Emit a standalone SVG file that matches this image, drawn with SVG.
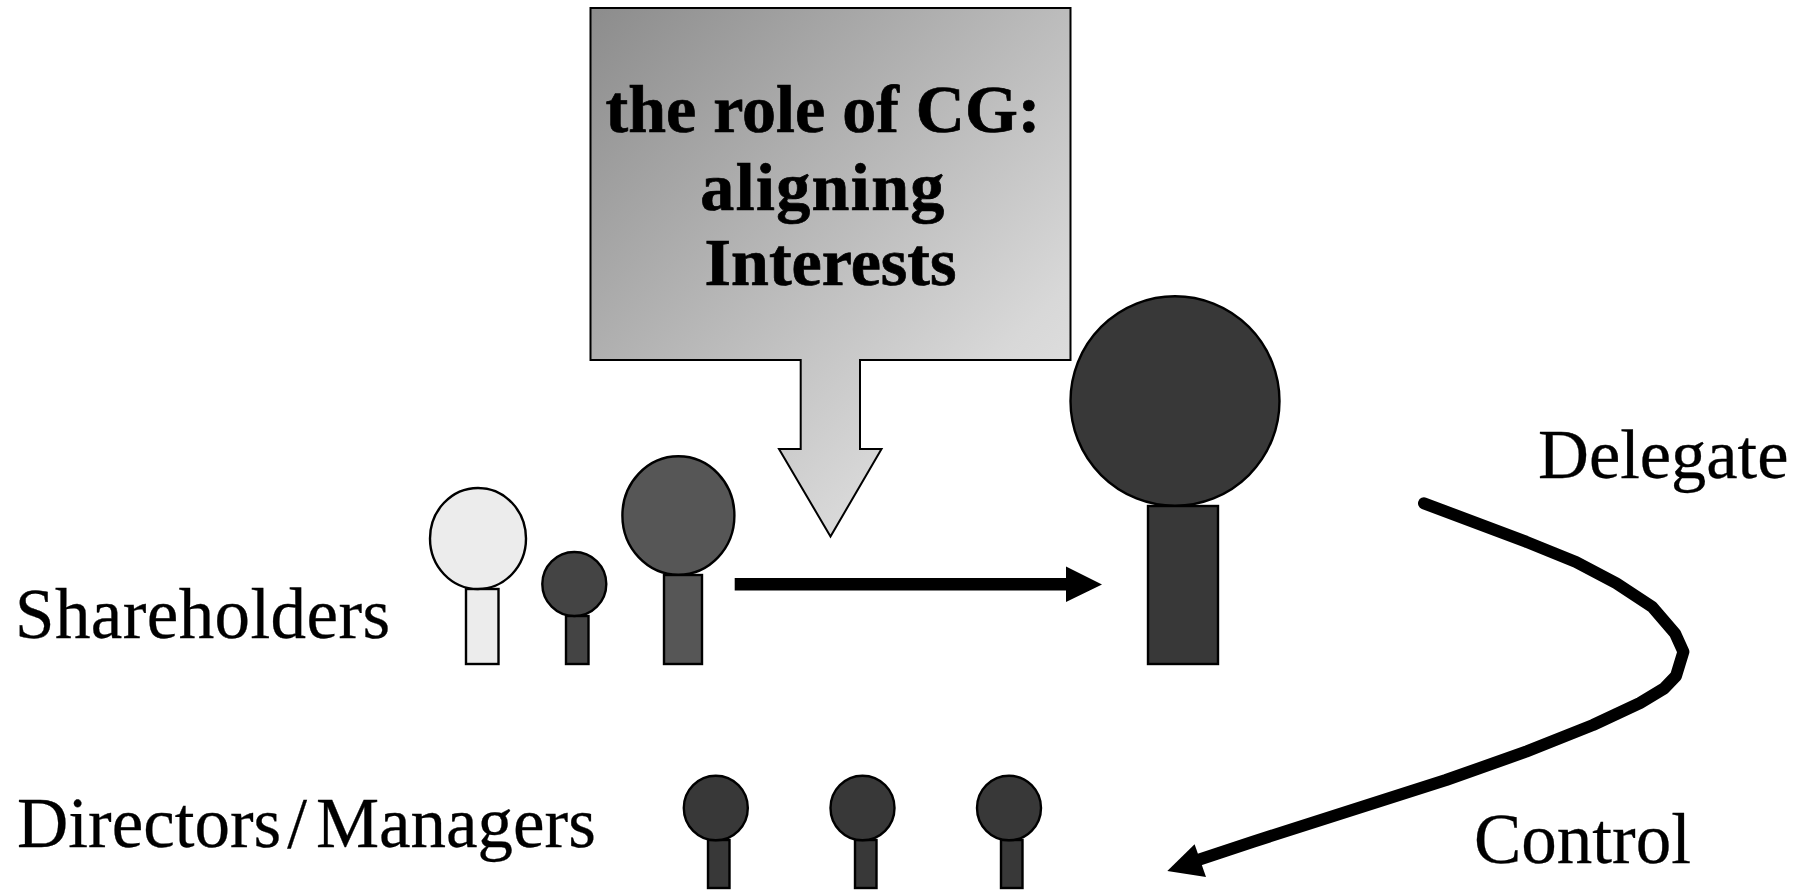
<svg xmlns="http://www.w3.org/2000/svg" width="1798" height="891" viewBox="0 0 1798 891">
<style>
text{font-family:"Liberation Serif","Times New Roman",serif;fill:#000;font-size:71px;stroke:#000;stroke-width:.3}
.b{font-weight:bold;font-size:68px;text-anchor:middle;stroke-width:.7}
.s{stroke:#000;stroke-width:2.4}
.l{fill:#ececec}.d{fill:#444}.m{fill:#565656}.k{fill:#383838}
</style>
<defs>
<linearGradient id="g" gradientUnits="userSpaceOnUse" x1="590" y1="8" x2="1000" y2="420">
<stop offset="0" stop-color="#8c8c8c"/><stop offset=".92" stop-color="#d8d8d8"/><stop offset="1" stop-color="#dcdcdc"/>
</linearGradient>
</defs>
<rect width="1798" height="891" fill="#fff"/>
<g id="callout">
<path d="M590.5 8H1070.5V360H860V449H881.5L830.5 536.5L779 449H800.7V360H590.5Z" fill="url(#g)" stroke="#000" stroke-width="2"/>
<text class="b" x="823" y="132">the role of CG:</text>
<text class="b" x="823" y="209.500" letter-spacing="1.4">aligning</text>
<text class="b" x="830.5" y="285">Interests</text>
</g>
<g id="shareholder-1"><rect class="s l" x="466" y="589" width="32.500" height="75"/><ellipse class="s l" cx="478" cy="538.500" rx="48" ry="50.500"/></g>
<g id="shareholder-2"><rect class="s d" x="566" y="616" width="22.500" height="48"/><ellipse class="s d" cx="574.300" cy="584" rx="32" ry="32"/></g>
<g id="shareholder-3"><rect class="s m" x="664" y="575" width="38" height="89"/><ellipse class="s m" cx="678.400" cy="515.500" rx="56" ry="59.200"/></g>
<g id="big-shareholder"><rect class="s k" x="1148" y="506" width="70" height="158"/><ellipse class="s k" cx="1175" cy="401" rx="104.500" ry="104.700"/></g>
<g id="manager-1"><rect class="s k" x="708" y="840" width="21.500" height="48"/><ellipse class="s k" cx="715.800" cy="808" rx="32" ry="32.300"/></g>
<g id="manager-2"><rect class="s k" x="855" y="840" width="21.500" height="48"/><ellipse class="s k" cx="862.500" cy="808" rx="32" ry="32.300"/></g>
<g id="manager-3"><rect class="s k" x="1001" y="840" width="21.500" height="48"/><ellipse class="s k" cx="1009" cy="808" rx="32" ry="32.300"/></g>
<g id="connectors">
<path d="M734.700 578H1066V566.600L1102 584.400L1066 602V590.500H734.700Z" fill="#000"/>
<path d="M1424 503.300L1526 541.700L1576 562L1616.300 583.300L1652 606.700L1675 633.300L1683.400 651.700L1676 676L1664 688.500L1640 703L1593 725L1526 751.700L1446 780L1253 841.700L1195 861" fill="none" stroke="#000" stroke-width="12" stroke-linecap="round" stroke-linejoin="round"/>
<path d="M1167.300 871L1194.600 844.300L1206 877Z" fill="#000"/>
</g>
<g id="labels">
<text x="15" y="637.500" letter-spacing=".4">Shareholders</text>
<text x="17" y="847">Directors<tspan dx="6">/</tspan><tspan dx="9">Managers</tspan></text>
<text x="1538" y="478" style="font-size:70.500px">Delegate</text>
<text x="1474" y="863">Control</text>
</g>
</svg>
